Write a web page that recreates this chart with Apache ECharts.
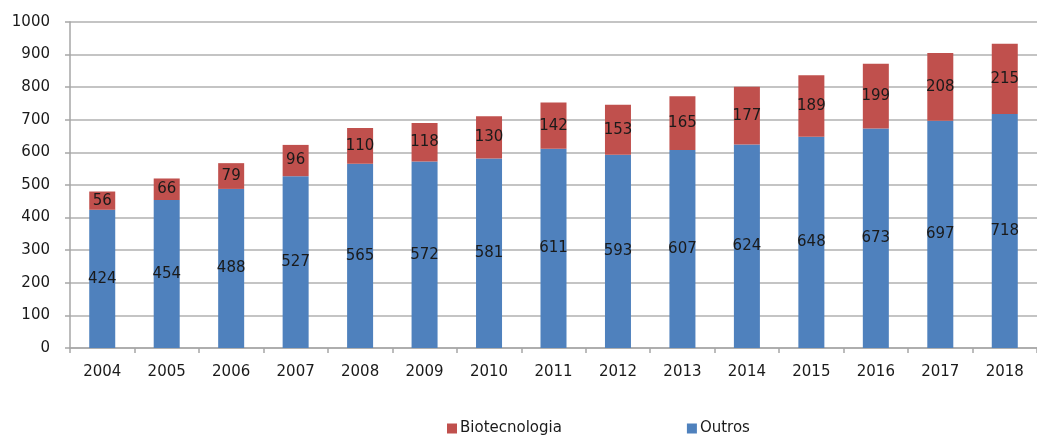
<!DOCTYPE html>
<html>
<head>
<meta charset="utf-8">
<script src="https://cdn.jsdelivr.net/npm/echarts@6/dist/echarts.min.js"></script>
<style>
html,body{margin:0;padding:0;background:#fff;}
#chart{width:1037px;height:436px;}
</style>
</head>
<body>
<div id="chart"></div>
<script>
const categories = ['2004','2005','2006','2007','2008','2009','2010','2011','2012','2013','2014','2015','2016','2017','2018'];
const outros = [424,454,488,527,565,572,581,611,593,607,624,648,673,697,718];
const biotecnologia = [56,66,79,96,110,118,130,142,153,165,177,189,199,208,215];
const yTicks = {min:0, max:1000, interval:100};

const FONT = 'DejaVu Sans';
const chart = echarts.init(document.getElementById('chart'), null, {renderer:'canvas'});
const labelStyle = {show:true, position:'inside', color:'#1a1a1a', fontFamily:FONT, fontSize:15};
chart.setOption({
  animation:false,
  backgroundColor:'#fff',
  textStyle:{fontFamily:FONT},
  grid:{left:70, right:-11, top:22, bottom:88, containLabel:false},
  legend:{
    data:['Biotecnologia','Outros'],
    left:442, top:416,
    itemWidth:10, itemHeight:10, itemGap:125,
    icon:'rect',
    textStyle:{fontFamily:FONT, fontSize:15, color:'#1a1a1a', padding:[0,0,0,-2]}
  },
  xAxis:{
    type:'category', data:categories,
    axisLine:{lineStyle:{color:'#a6a6a6', width:1.5}},
    axisTick:{show:true, alignWithLabel:false, length:5, lineStyle:{color:'#a6a6a6', width:1.5}},
    axisLabel:{color:'#1a1a1a', fontFamily:FONT, fontSize:15, margin:17}
  },
  yAxis:{
    type:'value', min:yTicks.min, max:yTicks.max, interval:yTicks.interval,
    axisLine:{show:true, lineStyle:{color:'#a6a6a6', width:1.5}},
    axisTick:{show:true, length:5, lineStyle:{color:'#a6a6a6', width:1.5}},
    axisLabel:{color:'#1a1a1a', fontFamily:FONT, fontSize:15, margin:20, formatter:(v)=>String(v)},
    splitLine:{lineStyle:{color:'#b0b0b0', width:1.5}}
  },
  series:[
    {name:'Outros', type:'bar', stack:'total', data:outros, barWidth:26,
     itemStyle:{color:'#4F81BD'}, label:labelStyle},
    {name:'Biotecnologia', type:'bar', stack:'total', data:biotecnologia, barWidth:26,
     itemStyle:{color:'#C0504D'}, label:labelStyle}
  ]
});
</script>
</body>
</html>
